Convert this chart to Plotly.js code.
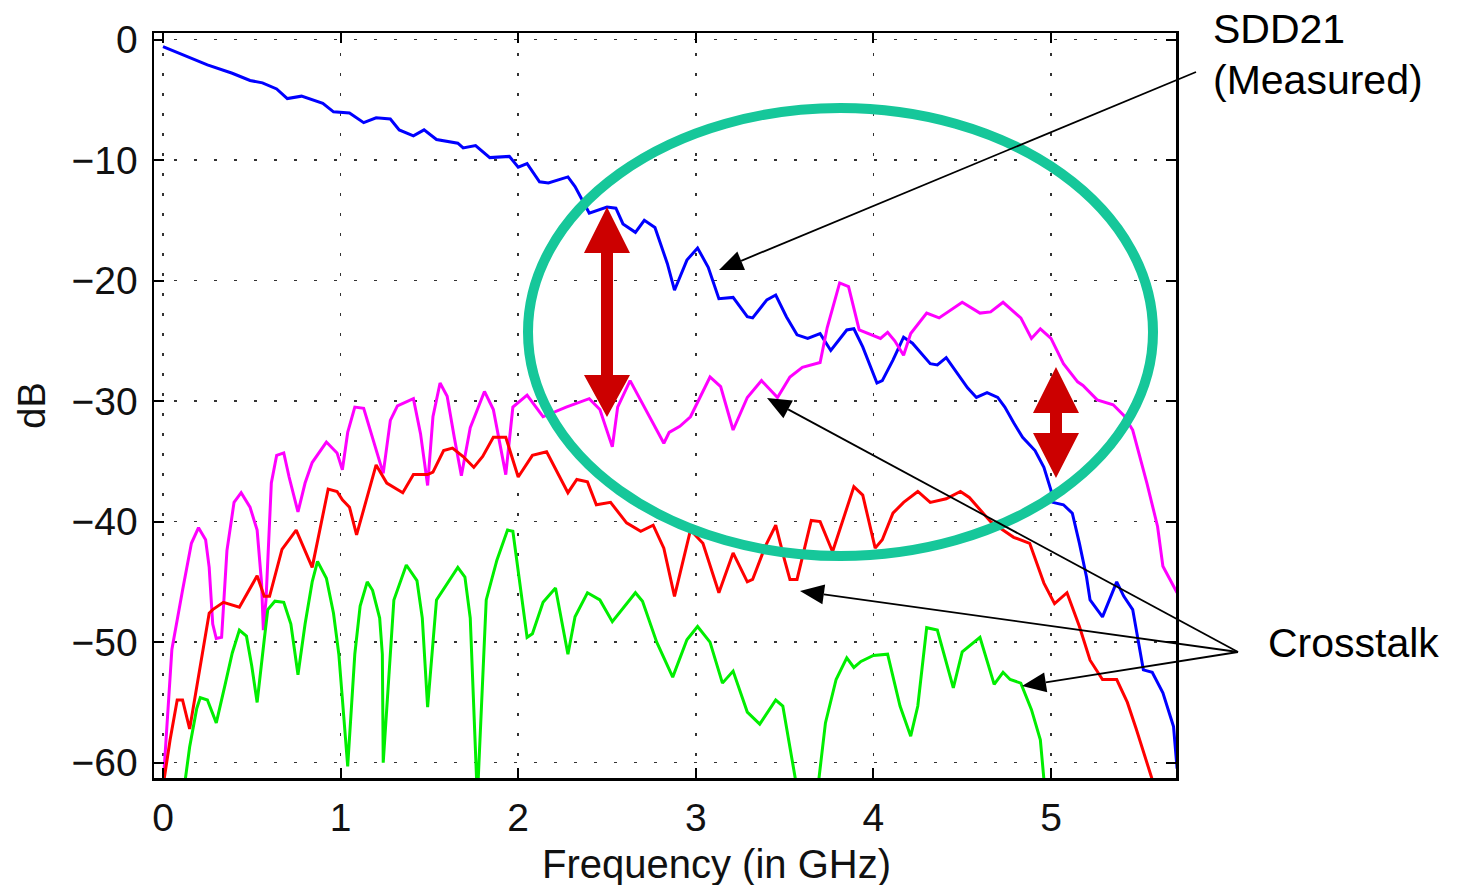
<!DOCTYPE html>
<html>
<head>
<meta charset="utf-8">
<script src="https://cdn.plot.ly/plotly-3.0.1.min.js"></script>
<style>
  html, body { margin: 0; padding: 0; background: #fff; }
  #chart { width: 1458px; height: 885px; }
</style>
</head>
<body>
<div id="chart"></div>
<script>
// ---------------- data ----------------
const xTickVals = [0, 1, 2, 3, 4, 5];
const yTickVals = [0, -10, -20, -30, -40, -50, -60];

// SDD21 (measured) - blue
const sdd21Freq = [0, 0.1, 0.25, 0.39, 0.49, 0.56, 0.64, 0.70, 0.78, 0.90, 0.96, 1.05, 1.13, 1.20, 1.28, 1.33, 1.41, 1.47, 1.54, 1.66, 1.69, 1.76, 1.84, 1.95, 2.00, 2.05, 2.12, 2.17, 2.28, 2.32, 2.40, 2.50, 2.55, 2.59, 2.66, 2.71, 2.77, 2.84, 2.88, 2.95, 3.01, 3.07, 3.13, 3.21, 3.29, 3.32, 3.40, 3.45, 3.51, 3.57, 3.63, 3.70, 3.76, 3.85, 3.89, 3.94, 4.02, 4.05, 4.11, 4.17, 4.22, 4.32, 4.36, 4.41, 4.47, 4.53, 4.58, 4.64, 4.70, 4.74, 4.79, 4.84, 4.91, 4.96, 5.00, 5.01, 5.07, 5.12, 5.16, 5.20, 5.22, 5.29, 5.37, 5.41, 5.46, 5.52, 5.57, 5.63, 5.69, 5.71];
const sdd21Db = [-0.6, -1.2, -2.1, -2.8, -3.4, -3.6, -4.1, -4.9, -4.7, -5.3, -6.0, -6.1, -6.9, -6.5, -6.6, -7.5, -8.0, -7.5, -8.3, -8.6, -9.0, -8.8, -9.8, -9.7, -10.6, -10.3, -11.8, -11.9, -11.4, -12.2, -14.4, -13.9, -14.0, -15.3, -16.0, -15.0, -15.6, -18.6, -20.8, -18.3, -17.3, -18.9, -21.5, -21.4, -23.0, -23.1, -21.6, -21.2, -23.0, -24.5, -24.8, -24.4, -25.8, -24.1, -24.0, -25.5, -28.5, -28.3, -26.6, -24.7, -25.2, -26.9, -27.0, -26.4, -27.7, -28.9, -29.7, -29.3, -29.7, -30.5, -31.8, -33.0, -34.1, -35.5, -37.4, -38.4, -38.6, -39.3, -41.8, -44.6, -46.5, -47.9, -45.0, -46.2, -47.3, -52.3, -52.5, -54.2, -57.0, -60.5];

// Crosstalk 1 - magenta
const xtalkAFreq = [0.0, 0.05, 0.11, 0.16, 0.20, 0.24, 0.26, 0.28, 0.30, 0.33, 0.36, 0.40, 0.44, 0.49, 0.53, 0.555, 0.565, 0.58, 0.61, 0.64, 0.68, 0.71, 0.76, 0.80, 0.84, 0.92, 0.98, 1.01, 1.04, 1.08, 1.13, 1.18, 1.24, 1.28, 1.32, 1.41, 1.45, 1.49, 1.52, 1.56, 1.60, 1.64, 1.68, 1.73, 1.81, 1.86, 1.93, 1.97, 2.05, 2.14, 2.27, 2.40, 2.46, 2.53, 2.56, 2.63, 2.70, 2.82, 2.85, 2.91, 2.97, 3.08, 3.14, 3.21, 3.29, 3.37, 3.46, 3.53, 3.60, 3.70, 3.74, 3.81, 3.86, 3.92, 4.04, 4.08, 4.12, 4.17, 4.21, 4.30, 4.37, 4.43, 4.50, 4.60, 4.66, 4.73, 4.83, 4.89, 4.94, 5.00, 5.07, 5.15, 5.18, 5.26, 5.35, 5.41, 5.46, 5.50, 5.54, 5.60, 5.63, 5.71];
const xtalkADb = [-62, -50.6, -45.7, -41.8, -40.5, -41.5, -43.8, -48.5, -49.7, -49.6, -42.4, -38.4, -37.6, -38.8, -40.7, -45.1, -49.0, -46.5, -36.8, -34.5, -34.3, -36.3, -39.2, -36.8, -35.1, -33.4, -34.3, -35.7, -32.6, -30.5, -30.6, -33.0, -36.0, -31.6, -30.4, -29.8, -32.7, -37.0, -31.3, -28.5, -29.6, -33.0, -36.2, -32.2, -29.2, -30.7, -36.1, -30.5, -29.5, -31.3, -30.5, -29.8, -30.7, -33.8, -30.5, -28.3, -30.2, -33.5, -32.6, -32.1, -31.3, -28.0, -28.8, -32.4, -29.7, -28.3, -29.7, -28.0, -27.2, -26.8, -23.9, -20.2, -20.5, -24.1, -24.8, -24.3, -25.0, -26.2, -24.4, -22.7, -23.1, -22.5, -21.8, -22.7, -22.6, -21.8, -23.1, -24.8, -24.0, -24.8, -26.9, -28.4, -28.7, -29.9, -30.3, -31.2, -32.4, -34.6, -36.8, -40.4, -43.7, -45.9];

// Crosstalk 2 - red
const xtalkBFreq = [0.0, 0.04, 0.08, 0.11, 0.15, 0.21, 0.26, 0.28, 0.34, 0.43, 0.49, 0.53, 0.57, 0.60, 0.67, 0.75, 0.84, 0.93, 0.98, 1.01, 1.05, 1.09, 1.20, 1.26, 1.35, 1.41, 1.49, 1.52, 1.58, 1.63, 1.69, 1.75, 1.80, 1.86, 1.93, 2.00, 2.08, 2.16, 2.28, 2.33, 2.39, 2.44, 2.52, 2.61, 2.69, 2.76, 2.82, 2.88, 2.97, 3.04, 3.13, 3.21, 3.29, 3.32, 3.39, 3.45, 3.50, 3.53, 3.57, 3.65, 3.70, 3.77, 3.89, 3.94, 4.01, 4.05, 4.11, 4.17, 4.25, 4.32, 4.41, 4.49, 4.54, 4.66, 4.79, 4.88, 4.96, 5.02, 5.09, 5.16, 5.22, 5.29, 5.37, 5.43, 5.48, 5.57];
const xtalkBDb = [-62, -58.1, -54.8, -54.8, -57.2, -52.0, -47.6, -47.3, -46.7, -47.1, -45.6, -44.5, -46.2, -46.2, -42.3, -40.7, -43.8, -37.3, -37.5, -38.2, -38.8, -41.1, -35.3, -36.8, -37.6, -36.1, -36.1, -35.9, -34.1, -33.9, -34.6, -35.5, -34.6, -33.0, -33.0, -36.3, -34.5, -34.2, -37.6, -36.5, -36.7, -38.6, -38.4, -40.1, -40.8, -40.3, -42.2, -46.2, -40.7, -41.8, -45.9, -42.6, -45.0, -44.8, -42.1, -40.3, -43.2, -44.8, -44.8, -39.9, -40.0, -42.5, -37.1, -37.8, -42.2, -41.5, -39.3, -38.4, -37.5, -38.4, -38.1, -37.5, -38.0, -40.0, -41.3, -41.8, -45.1, -46.8, -45.9, -48.7, -51.5, -53.1, -53.1, -55.0, -57.2, -61.4];

// Crosstalk 3 - green
const xtalkCFreq = [0.12, 0.15, 0.19, 0.21, 0.25, 0.30, 0.35, 0.39, 0.43, 0.47, 0.50, 0.53, 0.57, 0.59, 0.63, 0.68, 0.72, 0.76, 0.80, 0.84, 0.87, 0.92, 0.96, 0.99, 1.04, 1.08, 1.11, 1.15, 1.18, 1.22, 1.235, 1.24, 1.30, 1.37, 1.43, 1.46, 1.49, 1.54, 1.66, 1.70, 1.73, 1.77, 1.82, 1.88, 1.94, 1.97, 1.99, 2.03, 2.05, 2.08, 2.14, 2.21, 2.28, 2.32, 2.39, 2.46, 2.53, 2.66, 2.70, 2.78, 2.87, 2.95, 3.01, 3.08, 3.15, 3.21, 3.29, 3.36, 3.45, 3.49, 3.58, 3.63, 3.68, 3.73, 3.79, 3.85, 3.89, 3.93, 4.00, 4.08, 4.15, 4.21, 4.25, 4.30, 4.36, 4.45, 4.50, 4.60, 4.68, 4.73, 4.77, 4.83, 4.89, 4.94, 4.97];
const xtalkCDb = [-62, -58.7, -55.5, -54.6, -54.8, -56.7, -53.5, -50.9, -49.0, -49.5, -52.0, -55.0, -49.8, -47.3, -46.6, -46.7, -48.5, -52.7, -48.5, -45.0, -43.3, -44.7, -47.6, -51.0, -60.3, -51.0, -47.0, -45.0, -45.7, -48.0, -51.0, -60.0, -46.5, -43.6, -44.9, -48.0, -55.4, -46.5, -43.8, -44.6, -48.0, -63.0, -46.5, -43.2, -40.7, -40.8, -43.0, -47.3, -49.6, -49.3, -46.7, -45.5, -51.0, -47.9, -45.9, -46.5, -48.3, -45.9, -46.6, -50.0, -52.9, -49.8, -48.7, -50.0, -53.4, -52.4, -55.8, -56.8, -54.8, -55.3, -63.0, -65.0, -63.0, -56.7, -53.1, -51.3, -52.1, -51.6, -51.1, -51.0, -55.3, -57.8, -55.3, -48.8, -49.0, -53.8, -50.8, -49.6, -53.5, -52.5, -53.1, -53.4, -55.6, -58.1, -63.0];

// ---------------- pixel helpers for annotations ----------------
const W = 1458, H = 885;
const L = 154, R = 1176, T = 33, B = 778;
const PX = p => (p - L) / (R - L);
const PY = p => (B - p) / (B - T);

const FONT = 'Liberation Sans, Arial, Helvetica, sans-serif';

const traces = [
  {x: sdd21Freq, y: sdd21Db, name: 'SDD21 (Measured)', mode: 'lines', line: {color: '#0000ff', width: 3}},
  {x: xtalkAFreq, y: xtalkADb, name: 'Crosstalk 1', mode: 'lines', line: {color: '#ff00ff', width: 3}},
  {x: xtalkBFreq, y: xtalkBDb, name: 'Crosstalk 2', mode: 'lines', line: {color: '#ff0000', width: 3}},
  {x: xtalkCFreq, y: xtalkCDb, name: 'Crosstalk 3', mode: 'lines', line: {color: '#00ee00', width: 3}}
];

function pathFromPx(pts) {
  return 'M' + pts.map(p => PX(p[0]).toFixed(5) + ',' + PY(p[1]).toFixed(5)).join(' L') + ' Z';
}
function doubleArrow(cx, yTop, baseTop, baseBot, yBot, hw, sw) {
  return pathFromPx([
    [cx, yTop], [cx + hw, baseTop], [cx + sw, baseTop], [cx + sw, baseBot], [cx + hw, baseBot],
    [cx, yBot], [cx - hw, baseBot], [cx - sw, baseBot], [cx - sw, baseTop], [cx - hw, baseTop]
  ]);
}
function pointerShapes(tail, tip) {
  const dx = tip[0] - tail[0], dy = tip[1] - tail[1];
  const len = Math.hypot(dx, dy);
  const ux = dx / len, uy = dy / len;
  const hl = 24, hw = 10;
  const bx = tip[0] - ux * hl, by = tip[1] - uy * hl;
  return [
    {type: 'line', xref: 'paper', yref: 'paper', x0: PX(tail[0]), y0: PY(tail[1]), x1: PX(bx), y1: PY(by),
     line: {color: '#000', width: 1.8}},
    {type: 'path', xref: 'paper', yref: 'paper', fillcolor: '#000', line: {width: 0},
     path: pathFromPx([tip, [bx - uy * hw, by + ux * hw], [bx + uy * hw, by - ux * hw]])}
  ];
}

const shapes = [
  {type: 'circle', xref: 'paper', yref: 'paper', x0: PX(528), x1: PX(1153), y0: PY(556), y1: PY(108),
   line: {color: '#16c79a', width: 10}, fillcolor: 'rgba(0,0,0,0)'},
  {type: 'path', xref: 'paper', yref: 'paper', fillcolor: '#cc0000', line: {width: 0},
   path: doubleArrow(607, 207, 253, 375, 417, 23, 6)},
  {type: 'path', xref: 'paper', yref: 'paper', fillcolor: '#cc0000', line: {width: 0},
   path: doubleArrow(1056, 367, 413, 433, 478, 23, 6)},
  ...pointerShapes([1196, 72], [719, 270]),
  ...pointerShapes([1238, 652], [767, 398]),
  ...pointerShapes([1238, 652], [800, 591]),
  ...pointerShapes([1238, 652], [1022, 686])
];

const annotations = [
  {xref: 'paper', yref: 'paper', x: PX(1211), y: PY(29), xanchor: 'left', yanchor: 'middle', showarrow: false,
   text: 'SDD21', font: {family: FONT, size: 41, color: '#000'}},
  {xref: 'paper', yref: 'paper', x: PX(1211), y: PY(80), xanchor: 'left', yanchor: 'middle', showarrow: false,
   text: '(Measured)', font: {family: FONT, size: 41, color: '#000'}},
  {xref: 'paper', yref: 'paper', x: PX(1266), y: PY(643), xanchor: 'left', yanchor: 'middle', showarrow: false,
   text: 'Crosstalk', font: {family: FONT, size: 41, color: '#000'}},
  {xref: 'paper', yref: 'paper', x: PX(716), y: PY(864), xanchor: 'center', yanchor: 'middle', showarrow: false,
   text: 'Frequency (in GHz)', font: {family: FONT, size: 40, color: '#111'}}
];

const pxPerGHz = 177.6, x0px = 163;
const pxPerDb = 12.053, y0px = 39.5;

const layout = {
  width: W, height: H,
  margin: {l: L, r: W - R, t: T, b: H - B, pad: 0},
  paper_bgcolor: '#fff', plot_bgcolor: '#fff',
  showlegend: false,
  font: {family: FONT, color: '#111'},
  xaxis: {
    range: [(L - x0px) / pxPerGHz, (R - x0px) / pxPerGHz],
    tickvals: xTickVals, ticktext: xTickVals.map(String),
    ticks: 'inside', ticklen: 10, tickwidth: 2, tickcolor: '#000',
    showline: true, linewidth: 2.5, linecolor: '#000', mirror: 'ticks',
    showgrid: true, gridcolor: '#333', gridwidth: 1.5, griddash: '3px,17px',
    zeroline: false,
    tickfont: {family: FONT, size: 39, color: '#111'},
    ticklabelstandoff: 4
  },
  yaxis: {
    range: [-(B - y0px) / pxPerDb, -(T - y0px) / pxPerDb],
    tickvals: yTickVals, ticktext: yTickVals.map(v => v === 0 ? '0' : '\u2212' + Math.abs(v)),
    ticks: 'inside', ticklen: 10, tickwidth: 2, tickcolor: '#000',
    showline: true, linewidth: 2.5, linecolor: '#000', mirror: 'ticks',
    showgrid: true, gridcolor: '#333', gridwidth: 1.5, griddash: '3px,17px',
    zeroline: false,
    tickfont: {family: FONT, size: 39, color: '#111'},
    ticklabelstandoff: 6,
    title: {text: 'dB', font: {family: FONT, size: 38, color: '#111'}, standoff: 14}
  },
  shapes: shapes,
  annotations: annotations
};

Plotly.newPlot('chart', traces, layout, {displayModeBar: false, staticPlot: true});
</script>
</body>
</html>
